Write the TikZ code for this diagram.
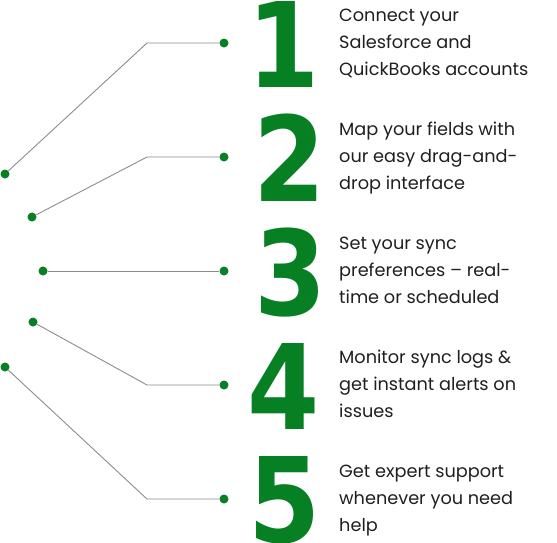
\documentclass[tikz,border=0pt]{standalone}
\usepackage{graphicx}
\usepackage{fontspec}
\setmainfont{Poppins}
\newfontfamily\digitfont{DejaVu Sans}
\definecolor{stepgreen}{HTML}{078024}
\definecolor{linegray}{HTML}{8C8C8C}
\begin{document}
\begin{tikzpicture}[x=1pt,y=-1pt,
  dot/.style={circle,fill=stepgreen,inner sep=0pt,minimum size=9pt},
  conn/.style={draw=linegray,line width=0.9pt},
  bignum/.style={anchor=base,inner sep=0pt,text=stepgreen,font=\digitfont\bfseries\fontsize{118}{118}\selectfont},
  desc/.style={anchor=base west,inner sep=0pt,text=black!88}]
\useasboundingbox (0,0) rectangle (557,542);
\newcommand\desctext[1]{\parbox[t]{215pt}{\fontsize{17.7}{27}\selectfont\raggedright #1}}
\newcommand\numglyph[1]{\scalebox{0.88}[1]{#1}}
% left dots
\node[dot] (l1) at (5,174) {};
\node[dot] (l2) at (32,217) {};
\node[dot] (l3) at (43,271) {};
\node[dot] (l4) at (33,322) {};
\node[dot] (l5) at (5,367) {};
% right dots
\node[dot] (r1) at (224,43) {};
\node[dot] (r2) at (224,157) {};
\node[dot] (r3) at (224,271) {};
\node[dot] (r4) at (224,385) {};
\node[dot] (r5) at (224,499) {};
% elbows
\coordinate (e1) at (147,43);
\coordinate (e2) at (147,157);
\coordinate (e4) at (147,385);
\coordinate (e5) at (147,499);
\draw[conn] (l1) -- (e1) -- (r1);
\draw[conn] (l2) -- (e2) -- (r2);
\draw[conn] (l3) -- (r3);
\draw[conn] (l4) -- (e4) -- (r4);
\draw[conn] (l5) -- (e5) -- (r5);
% numbers
\node[bignum] (n1) at (284,87) {\numglyph{1}};
\node[bignum] (n2) at (290,201) {\numglyph{2}};
\node[bignum] (n3) at (291,315) {\numglyph{3}};
\node[bignum] (n4) at (284,429) {\numglyph{4}};
\node[bignum] (n5) at (285,542) {\numglyph{5}};
% descriptions
\node[desc] (d1) at (339,21) {\desctext{Connect your\\Salesforce and\\QuickBooks accounts}};
\node[desc] (d2) at (339,135) {\desctext{Map your fields with\\our easy drag-and-\\drop interface}};
\node[desc] (d3) at (339,249) {\desctext{Set your sync\\preferences -- real-\\time or scheduled}};
\node[desc] (d4) at (339,363) {\desctext{Monitor sync logs \&\\get instant alerts on\\issues}};
\node[desc] (d5) at (339,477) {\desctext{Get expert support\\whenever you need\\help}};
\end{tikzpicture}
\end{document}
